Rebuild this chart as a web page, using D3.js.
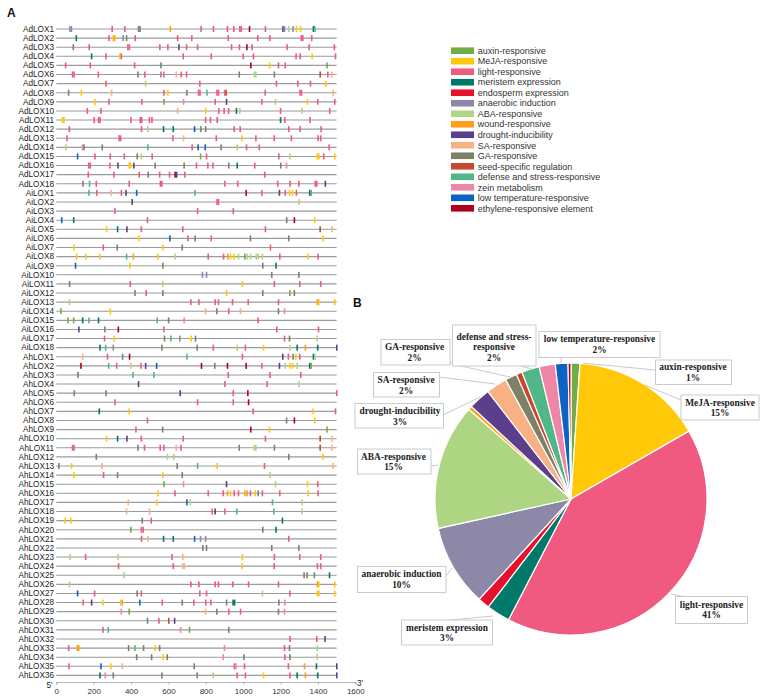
<!DOCTYPE html>
<html>
<head>
<meta charset="utf-8">
<script src="https://cdnjs.cloudflare.com/ajax/libs/d3/7.8.5/d3.min.js"></script>
<style>
  html, body { margin: 0; padding: 0; background: #fff; }
  svg { display: block; }
  .gene { font: 8.2px "Liberation Sans", Arial, sans-serif; fill: #222; }
  .legend-label { font: 9px "Liberation Sans", Arial, sans-serif; fill: #333; }
  .panel { font: bold 12px "Liberation Sans", Arial, sans-serif; fill: #111; }
  .callout { font: bold 9.4px "Liberation Serif", "Times New Roman", serif; fill: #222; }
  .axis text { font: 8px "Liberation Sans", Arial, sans-serif; fill: #333; }
</style>
</head>
<body>
<div id="page"></div>
<script>
// element types, in legend order
var typeKeys = ['a', 'm', 'l', 'e', 'n', 'an', 'b', 'w', 'd', 's', 'g', 'r', 'f', 'z', 't', 'y'];
var typeNames = ['auxin-responsive', 'MeJA-responsive', 'light-responsive', 'meristem expression',
  'endosperm expression', 'anaerobic induction', 'ABA-responsive', 'wound-responsive',
  'drought-inducibility', 'SA-responsive', 'GA-responsive', 'seed-specific regulation',
  'defense and stress-responsive', 'zein metabolism', 'low temperature-responsive',
  'ethylene-responsive element'];
var typeColors = ['#70ad47', '#ffc90a', '#f05a80', '#00796b', '#e8112d', '#8e88a8', '#aed581', '#ff9e1b',
  '#5b3f8c', '#f7b183', '#7f8068', '#c8482e', '#52b788', '#ee86a8', '#0b63c4', '#b00020'];

// share of each element type in the pie, percent
var pieShares = [1.05, 15.6, 40.8, 2.8, 1.4, 9.7, 14.9, 0.45, 2.6, 2.5, 1.4, 0.7, 2.1, 1.9, 1.5, 0.35];

var axisTicks = [0, 200, 400, 600, 800, 1000, 1200, 1400, 1600];

var adSites = [
  [[73,'an'],[81,'an'],[299,'l'],[367,'l'],[440,'g'],[448,'g'],[610,'w'],[775,'l'],[841,'l'],[916,'l'],[950,'l'],[982,'l'],[990,'l'],[1034,'y'],[1119,'l'],[1213,'d'],[1221,'an'],[1244,'b'],[1267,'an'],[1285,'m'],[1307,'m'],[1376,'e'],[1384,'f']],
  [[107,'e'],[282,'l'],[304,'m'],[312,'w'],[358,'an'],[376,'g'],[422,'l'],[649,'l'],[725,'l'],[920,'l'],[1078,'l'],[1143,'l'],[1311,'l'],[1319,'l'],[1367,'l']],
  [[91,'g'],[176,'l'],[383,'l'],[391,'l'],[554,'l'],[597,'l'],[656,'d'],[697,'l'],[756,'l'],[938,'l'],[980,'l'],[1020,'y'],[1048,'l'],[1235,'l'],[1353,'l'],[1488,'l']],
  [[189,'e'],[266,'l'],[340,'m'],[348,'l'],[679,'l'],[829,'l'],[1000,'l'],[1055,'l'],[1283,'l'],[1305,'l'],[1369,'m'],[1494,'l']],
  [[50,'l'],[182,'l'],[419,'l'],[560,'g'],[1041,'y'],[1141,'m'],[1189,'l'],[1225,'l'],[1449,'a']],
  [[87,'l'],[95,'l'],[225,'l'],[437,'g'],[474,'l'],[560,'l'],[576,'an'],[642,'s'],[668,'l'],[697,'l'],[979,'g'],[1060,'b'],[1068,'b'],[1167,'g'],[1412,'r'],[1453,'l'],[1474,'s']],
  [[266,'l'],[478,'b'],[768,'l'],[1178,'l'],[1292,'l'],[1360,'l'],[1442,'m']],
  [[66,'g'],[134,'m'],[296,'s'],[576,'l'],[597,'m'],[699,'g'],[761,'l'],[769,'l'],[806,'f'],[860,'l'],[868,'l'],[901,'l'],[909,'r'],[1118,'l'],[1304,'l'],[1312,'l'],[1481,'s']],
  [[207,'m'],[282,'l'],[458,'l'],[576,'a'],[681,'z'],[850,'l'],[911,'d'],[1100,'l'],[1173,'b'],[1344,'m'],[1399,'l'],[1490,'l']],
  [[166,'l'],[239,'l'],[649,'s'],[800,'m'],[870,'l'],[898,'l'],[922,'l'],[964,'e'],[982,'b'],[1200,'l'],[1315,'b'],[1463,'l']],
  [[33,'m'],[41,'m'],[203,'l'],[226,'l'],[234,'l'],[399,'l'],[449,'l'],[457,'l'],[499,'l'],[512,'l'],[799,'l'],[825,'l'],[861,'l'],[1200,'e'],[1223,'l'],[1358,'l']],
  [[70,'l'],[456,'l'],[490,'b'],[574,'e'],[626,'e'],[740,'t'],[774,'g'],[799,'g'],[952,'l'],[984,'l'],[1244,'l'],[1305,'l'],[1417,'l']],
  [[57,'l'],[336,'l'],[344,'l'],[624,'l'],[681,'s'],[856,'l'],[993,'m'],[1068,'l'],[1166,'l'],[1258,'l'],[1401,'l'],[1415,'l']],
  [[52,'b'],[140,'z'],[148,'g'],[246,'g'],[490,'f'],[727,'l'],[759,'t'],[797,'t'],[882,'g'],[968,'b'],[1018,'l'],[1086,'l'],[1460,'l']],
  [[114,'t'],[207,'l'],[289,'l'],[364,'l'],[433,'g'],[455,'b'],[513,'l'],[772,'a'],[804,'l'],[1191,'l'],[1250,'b'],[1397,'m'],[1405,'m'],[1431,'l'],[1490,'m']],
  [[174,'l'],[182,'l'],[287,'l'],[330,'d'],[390,'m'],[398,'m'],[415,'d'],[529,'g'],[684,'g'],[750,'l'],[811,'l'],[838,'l'],[923,'g'],[968,'e'],[1062,'l'],[1201,'g'],[1232,'z']],
  [[171,'l'],[308,'l'],[444,'l'],[492,'g'],[553,'l'],[606,'l'],[636,'y'],[644,'d'],[688,'l'],[1116,'l']],
  [[143,'g'],[178,'f'],[214,'l'],[390,'l'],[557,'l'],[565,'l'],[902,'l'],[971,'l'],[1185,'l'],[1251,'l'],[1298,'l'],[1386,'l'],[1394,'l'],[1440,'d']]
];

var aiSites = [
  [[175,'f'],[217,'l'],[294,'s'],[348,'l'],[373,'d'],[430,'t'],[742,'f'],[1016,'y'],[1100,'l'],[1194,'d'],[1225,'l'],[1248,'m'],[1264,'m'],[1285,'l'],[1356,'e'],[1364,'a']],
  [[406,'d'],[860,'l'],[868,'l'],[1299,'b']],
  [[314,'l'],[756,'l'],[947,'l']],
  [[29,'t'],[93,'e'],[488,'l'],[1233,'g'],[1274,'y'],[1383,'m']],
  [[269,'m'],[328,'e'],[378,'d'],[455,'l'],[677,'l'],[1119,'l'],[1412,'r'],[1476,'s']],
  [[442,'m'],[608,'t'],[704,'l'],[743,'g'],[829,'l'],[1039,'g'],[1244,'g'],[1428,'m']],
  [[94,'m'],[251,'l'],[326,'g'],[570,'m'],[674,'g'],[1146,'l']],
  [[109,'m'],[159,'m'],[232,'m'],[376,'f'],[412,'w'],[544,'m'],[635,'b'],[813,'l'],[895,'l'],[918,'w'],[932,'m'],[950,'m'],[975,'b'],[1009,'a'],[1021,'b'],[1039,'b'],[1070,'b'],[1080,'b'],[1103,'b'],[1196,'l'],[1348,'m'],[1401,'l']],
  [[103,'t'],[394,'m'],[570,'g'],[1105,'g'],[1176,'e']],
  [[782,'an'],[804,'an'],[1153,'g'],[1298,'g']],
  [[71,'g'],[396,'l'],[570,'b'],[996,'m'],[1167,'l'],[1303,'l'],[1415,'l']],
  [[421,'g'],[481,'l'],[570,'g'],[911,'m'],[1105,'g'],[1250,'a'],[1274,'g']],
  [[71,'b'],[720,'l'],[763,'l'],[850,'l'],[868,'l'],[943,'l'],[1027,'l'],[1189,'l'],[1397,'w'],[1405,'m'],[1490,'m']],
  [[25,'a'],[289,'m'],[799,'s'],[859,'g'],[923,'l'],[986,'s'],[1189,'g'],[1221,'z']],
  [[62,'a'],[93,'a'],[141,'e'],[175,'f'],[226,'e'],[540,'f'],[601,'g'],[684,'z'],[1080,'l']],
  [[121,'d'],[260,'g'],[332,'y'],[576,'l'],[1180,'l'],[1403,'l']],
  [[258,'l'],[310,'m'],[579,'g'],[613,'f'],[661,'an'],[722,'m'],[745,'g'],[1221,'l'],[1248,'g'],[1396,'b']],
  [[234,'e'],[264,'f'],[305,'an'],[565,'g'],[754,'g'],[840,'l'],[968,'b'],[1012,'l'],[1109,'m'],[1251,'b'],[1289,'e'],[1333,'w'],[1399,'e'],[1501,'d']]
];

var ahSites = [
  [[141,'s'],[274,'l'],[355,'g'],[392,'y'],[699,'f'],[996,'l'],[1212,'d'],[1242,'l'],[1267,'g'],[1282,'m'],[1303,'l'],[1376,'e'],[1385,'b']],
  [[132,'y'],[280,'f'],[323,'l'],[399,'s'],[453,'l'],[478,'d'],[537,'t'],[777,'y'],[848,'g'],[916,'y'],[1016,'y'],[1100,'l'],[1194,'d'],[1225,'b'],[1250,'m'],[1264,'m'],[1289,'b'],[1356,'e'],[1364,'a']],
  [[116,'g'],[410,'f'],[522,'f'],[920,'l'],[1143,'l'],[1308,'l']],
  [[440,'d'],[902,'l'],[1128,'l'],[1299,'b']],
  [[96,'g'],[266,'g'],[663,'d'],[947,'l'],[1025,'y'],[1501,'l']],
  [[314,'l'],[756,'l'],[947,'l'],[1029,'y']],
  [[230,'e'],[390,'m'],[1053,'l'],[1374,'m'],[1494,'l']],
  [[488,'l'],[1232,'g'],[1274,'y'],[1383,'m']],
  [[426,'l'],[569,'g'],[1041,'y'],[1141,'m'],[1449,'a']],
  [[269,'m'],[328,'e'],[378,'d'],[455,'l'],[679,'l'],[1119,'l'],[1412,'r'],[1476,'s']],
  [[87,'l'],[95,'l'],[437,'g'],[472,'l'],[556,'l'],[576,'l'],[642,'s'],[667,'l'],[979,'g'],[1060,'b'],[1068,'b'],[1167,'g'],[1412,'r'],[1474,'s']],
  [[214,'g'],[595,'b'],[629,'b'],[1244,'g'],[1428,'m']],
  [[14,'g'],[82,'m'],[244,'s'],[647,'g'],[756,'f'],[861,'m'],[1114,'l'],[1481,'s']],
  [[94,'m'],[253,'l'],[328,'g'],[570,'m'],[674,'g'],[1144,'b']],
  [[576,'a'],[681,'z'],[911,'d'],[1173,'b'],[1344,'m'],[1399,'l']],
  [[544,'m'],[635,'l'],[813,'l'],[893,'l'],[916,'w'],[932,'m'],[952,'l'],[975,'l'],[1009,'w'],[1021,'w'],[1039,'l'],[1064,'m'],[1080,'g'],[1103,'l'],[1196,'l'],[1348,'m'],[1401,'l']],
  [[385,'s'],[537,'m'],[699,'t'],[717,'b'],[1157,'f'],[1315,'b']],
  [[376,'s'],[499,'s'],[834,'l'],[850,'d'],[902,'l'],[966,'f'],[1164,'f'],[1315,'b']],
  [[48,'m'],[78,'m'],[460,'g'],[508,'l'],[1210,'e']],
  [[399,'a'],[455,'l'],[465,'l'],[1105,'g'],[1176,'e']],
  [[456,'l'],[490,'s'],[574,'e'],[626,'e'],[740,'t'],[772,'an'],[799,'an'],[1244,'l']],
  [[784,'g'],[804,'g'],[1153,'g'],[1298,'g']],
  [[73,'b'],[157,'l'],[330,'b'],[619,'l'],[677,'s'],[996,'m'],[1167,'l'],[1303,'l'],[1415,'l']],
  [[333,'l'],[626,'l'],[677,'s'],[685,'s'],[993,'m'],[1166,'l'],[1397,'l'],[1415,'l']],
  [[362,'b'],[1326,'g'],[1342,'g'],[1381,'g'],[1462,'e']],
  [[71,'b'],[720,'l'],[763,'l'],[850,'l'],[868,'l'],[945,'l'],[1029,'l'],[1189,'l'],[1397,'w'],[1405,'m'],[1490,'m']],
  [[114,'t'],[205,'l'],[433,'g'],[455,'l'],[768,'l'],[804,'l'],[1103,'b'],[1250,'l'],[1397,'m'],[1405,'m'],[1490,'m']],
  [[144,'l'],[189,'d'],[250,'m'],[345,'m'],[353,'w'],[447,'t'],[567,'l'],[674,'g'],[736,'l'],[800,'l'],[827,'l'],[911,'g'],[946,'e'],[954,'e'],[1191,'g'],[1223,'z']],
  [[348,'z'],[390,'a'],[799,'s'],[859,'g'],[923,'l'],[986,'l'],[1189,'g'],[1221,'z']],
  [[488,'g'],[549,'l'],[602,'r'],[633,'d']],
  [[250,'l'],[278,'f'],[665,'z'],[713,'a'],[923,'g']],
  [[1251,'l'],[1394,'l'],[1438,'d']],
  [[66,'l'],[112,'w'],[120,'w'],[387,'g'],[421,'f'],[467,'g'],[529,'m'],[553,'g'],[900,'z'],[1221,'l'],[1248,'g'],[1396,'b']],
  [[430,'g'],[510,'g'],[572,'m'],[594,'g'],[893,'z'],[1004,'g'],[1223,'l'],[1250,'g'],[1396,'b']],
  [[68,'l'],[239,'t'],[292,'m'],[353,'s'],[738,'g'],[953,'l'],[961,'z'],[1007,'l'],[1242,'l'],[1328,'w'],[1392,'e'],[1501,'d']],
  [[234,'e'],[262,'z'],[305,'g'],[565,'g'],[754,'g'],[840,'b'],[968,'l'],[1012,'l'],[1109,'m'],[1250,'l'],[1289,'e'],[1333,'w'],[1399,'e'],[1501,'d']]
];

var geneNames = [];
adSites.forEach(function(s, i) { geneNames.push('AdLOX' + (i + 1)); });
aiSites.forEach(function(s, i) { geneNames.push('AiLOX' + (i + 1)); });
ahSites.forEach(function(s, i) { geneNames.push('AhLOX' + (i + 1)); });
var geneSites = adSites.concat(aiSites, ahSites);

var svg = d3.select('#page').append('svg')
    .attr('width', 767)
    .attr('height', 697);

var color = d3.scaleOrdinal(typeKeys, typeColors);

// panel A
var x = d3.scaleLinear().domain([0, 1600]).range([56.3, 355.3]);
var y = d3.scalePoint().domain(geneNames).range([29, 675.4]);

svg.append('text').attr('class', 'panel').attr('x', 7).attr('y', 17).text('A');

var rows = svg.selectAll('.row')
    .data(geneNames)
  .enter().append('g')
    .attr('class', 'row')
    .attr('transform', function(d) { return 'translate(0,' + y(d) + ')'; });

rows.append('line')
    .attr('x1', x(0))
    .attr('x2', x(1500))
    .attr('stroke', '#9a9a9a')
    .attr('stroke-width', 1.1);

rows.append('text')
    .attr('class', 'gene')
    .attr('x', 54)
    .attr('dy', '0.34em')
    .attr('text-anchor', 'end')
    .text(function(d) { return d; });

rows.selectAll('rect')
    .data(function(d, i) { return geneSites[i]; })
  .enter().append('rect')
    .attr('x', function(d) { return x(d[0]) - 0.8; })
    .attr('y', -3)
    .attr('width', 1.6)
    .attr('height', 6)
    .attr('fill', function(d) { return color(d[1]); });

var axis = svg.append('g')
    .attr('class', 'axis')
    .attr('transform', 'translate(0,682)')
    .call(d3.axisBottom(x).tickValues(axisTicks).tickFormat(d3.format('d')).tickSize(2.5).tickPadding(3.5));
axis.selectAll('.domain, .tick line').attr('stroke', '#888').attr('stroke-width', 0.6);

svg.append('text').attr('class', 'gene').attr('x', 49.5).attr('y', 687.5).attr('text-anchor', 'middle').text("5'");
svg.append('text').attr('class', 'gene').attr('x', 360).attr('y', 686).attr('text-anchor', 'middle').text("3'");

// legend
var legendY = d3.scalePoint().domain(typeNames).range([50.7, 208.3]);
var legend = svg.selectAll('.legend')
    .data(typeNames)
  .enter().append('g')
    .attr('class', 'legend')
    .attr('transform', function(d) { return 'translate(0,' + legendY(d) + ')'; });
legend.append('rect')
    .attr('x', 451)
    .attr('y', -3.3)
    .attr('width', 23)
    .attr('height', 6.6)
    .attr('fill', function(d, i) { return typeColors[i]; });
legend.append('text')
    .attr('class', 'legend-label')
    .attr('x', 477.7)
    .attr('dy', '0.36em')
    .text(function(d) { return d; });

// panel B
svg.append('text').attr('class', 'panel').attr('x', 353).attr('y', 307).text('B');

var pie = d3.pie().sort(null)(pieShares);
var arc = d3.arc().innerRadius(0).outerRadius(136);
var pieGroup = svg.append('g').attr('transform', 'translate(571,499)');

// callout leaders run under the slices
var leaders = [
  [[449, 362], [452, 364], [510, 377]],
  [[439, 377], [495, 384]],
  [[443, 415], [480, 397]],
  [[431, 466], [438, 465]],
  [[521, 366], [532, 369]],
  [[561, 357], [561, 363]],
  [[583, 363], [655, 370]],
  [[645, 385], [681, 400]],
  [[446, 576], [452, 568]],
  [[450, 620], [493, 616]],
  [[671, 594], [686, 597]]
];
svg.append('g').selectAll('path')
    .data(leaders)
  .enter().append('path')
    .attr('d', d3.line())
    .attr('fill', 'none')
    .attr('stroke', '#bdbdbd')
    .attr('stroke-width', 0.8);

pieGroup.selectAll('path')
    .data(pie)
  .enter().append('path')
    .attr('d', arc)
    .attr('fill', function(d, i) { return typeColors[i]; })
    .attr('stroke', '#fff')
    .attr('stroke-width', 1.2);

var callouts = [
  {lines: ['GA-responsive', '2%'], box: [381, 339.5, 69, 25.5], cx: 414.5, top: 350},
  {lines: ['defense and stress-', 'responsive', '2%'], box: [452.5, 325, 83.5, 41], cx: 494, top: 339.5},
  {lines: ['low temperature-responsive', '2%'], box: [539, 331.5, 121, 26], cx: 599.5, top: 342},
  {lines: ['auxin-responsive', '1%'], box: [655.5, 360, 76, 24.5], cx: 693, top: 370},
  {lines: ['MeJA-responsive', '15%'], box: [681, 395, 78, 25], cx: 720, top: 405.5},
  {lines: ['SA-responsive', '2%'], box: [373.5, 372.5, 66, 24.5], cx: 406, top: 383},
  {lines: ['drought-inducibility', '3%'], box: [355, 403.5, 88.5, 24.5], cx: 400, top: 414},
  {lines: ['ABA-responsive', '15%'], box: [357.5, 449, 73.5, 25], cx: 393.5, top: 459.5},
  {lines: ['anaerobic induction', '10%'], box: [357.5, 566.5, 88.5, 26], cx: 401.5, top: 577},
  {lines: ['meristem expression', '3%'], box: [401.5, 620, 91, 25], cx: 447, top: 630.5},
  {lines: ['light-responsive', '41%'], box: [675.5, 596.5, 72, 27], cx: 711.5, top: 607.5}
];

var callout = svg.selectAll('.callout-box')
    .data(callouts)
  .enter().append('g')
    .attr('class', 'callout-box');
callout.append('rect')
    .attr('x', function(d) { return d.box[0]; })
    .attr('y', function(d) { return d.box[1]; })
    .attr('width', function(d) { return d.box[2]; })
    .attr('height', function(d) { return d.box[3]; })
    .attr('fill', '#fff')
    .attr('stroke', '#c6c6c6')
    .attr('stroke-width', 0.9);
callout.each(function(d) {
  d3.select(this).selectAll('text')
      .data(d.lines)
    .enter().append('text')
      .attr('class', 'callout')
      .attr('x', d.cx)
      .attr('y', function(t, i) { return d.top + i * 10.8; })
      .attr('text-anchor', 'middle')
      .text(function(t) { return t; });
});
</script>
</body>
</html>
